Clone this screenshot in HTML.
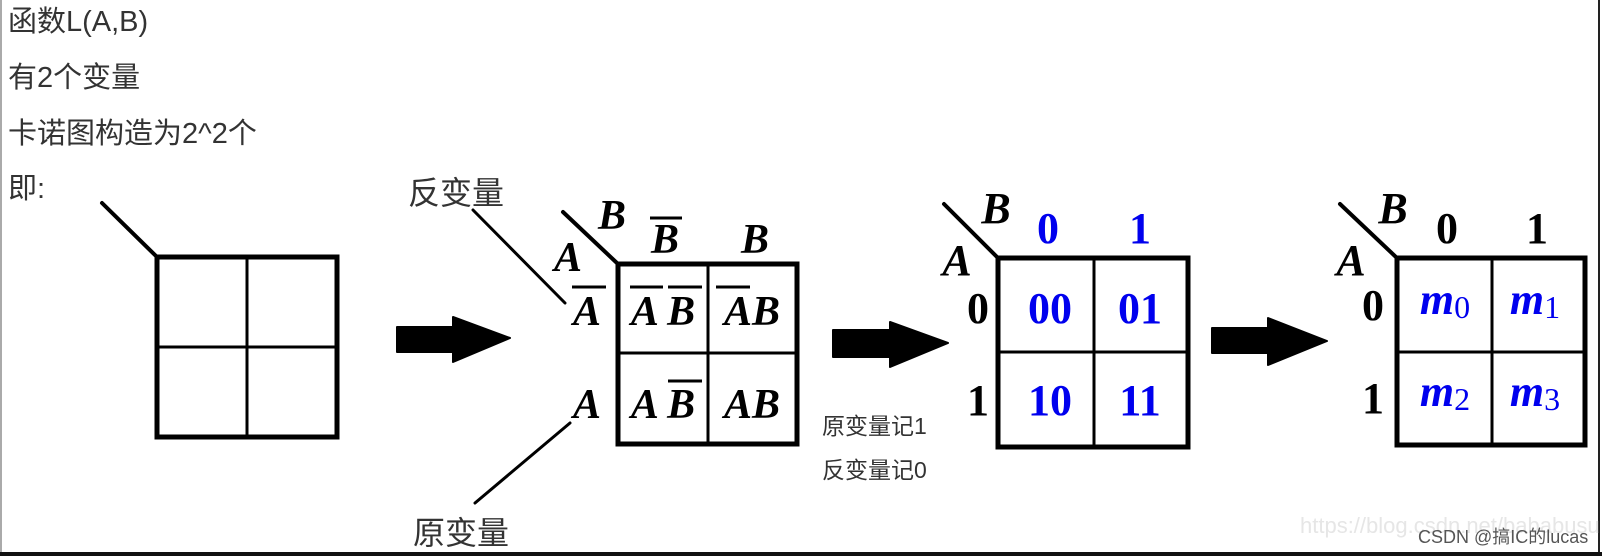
<!DOCTYPE html>
<html><head><meta charset="utf-8"><style>
html,body{margin:0;padding:0;background:#fff;}
svg{display:block;}
.cn{font-family:"Liberation Sans","Noto Sans CJK SC",sans-serif;fill:#333;}
.t{font-family:"Liberation Serif",serif;font-weight:bold;}
</style></head><body>
<svg width="1602" height="556" viewBox="0 0 1602 556" xmlns="http://www.w3.org/2000/svg">
<rect x="0" y="0" width="1602" height="556" fill="#fff"/>
<line x1="1" y1="0" x2="1" y2="552" stroke="#aaa" stroke-width="2"/>
<line x1="1599" y1="0" x2="1599" y2="552" stroke="#222" stroke-width="2"/>
<rect x="0" y="552" width="1602" height="4" fill="#111"/>

<g class="cn" font-size="29">
<text x="8" y="31">函数L(A,B)</text>
<text x="8" y="87">有2个变量</text>
<text x="8" y="143">卡诺图构造为2^2个</text>
<text x="8" y="198">即:</text>
</g>

<!-- Map 1 -->
<g stroke="#000" fill="none" stroke-linecap="round">
<line x1="102" y1="203" x2="157" y2="257" stroke-width="4"/>
<rect x="157" y="257" width="180" height="180" stroke-width="5"/>
<line x1="247" y1="257" x2="247" y2="437" stroke-width="3"/>
<line x1="157" y1="347" x2="337" y2="347" stroke-width="3"/>
</g>
<polygon points="397,327 453,327 453,317 510,338 453,362 453,352 397,352" fill="#000" stroke="#000" stroke-width="2" stroke-linejoin="round"/>

<!-- Map 2 -->
<g class="cn" font-size="32">
<text x="408" y="204">反变量</text>
<text x="413" y="544">原变量</text>
</g>
<g stroke="#000" fill="none" stroke-linecap="round">
<line x1="473" y1="210" x2="565" y2="303" stroke-width="3"/>
<line x1="570" y1="423" x2="475" y2="503" stroke-width="3"/>
<line x1="563" y1="212" x2="618" y2="264" stroke-width="4"/>
<rect x="618" y="264" width="179" height="180" stroke-width="5"/>
<line x1="708" y1="264" x2="708" y2="444" stroke-width="3"/>
<line x1="618" y1="353" x2="797" y2="353" stroke-width="3"/>
</g>
<g class="t" font-style="italic" font-size="42" fill="#000" text-anchor="middle">
<text x="612" y="229">B</text>
<text x="568" y="271">A</text>
<text x="665" y="253">B</text>
<text x="755" y="253">B</text>
<text x="587" y="325">A</text>
<text x="587" y="418">A</text>
<text x="663" y="325">A B</text>
<text x="752" y="325">AB</text>
<text x="663" y="418">A B</text>
<text x="752" y="418">AB</text>
</g>
<g stroke="#000" stroke-width="3">
<line x1="650" y1="218" x2="682" y2="218"/>
<line x1="572" y1="287" x2="606" y2="287"/>
<line x1="630" y1="287" x2="663" y2="287"/>
<line x1="668" y1="287" x2="702" y2="287"/>
<line x1="716" y1="287" x2="750" y2="287"/>
<line x1="668" y1="381" x2="702" y2="381"/>
</g>

<polygon points="833,330 890,330 890,322 948,343 890,367 890,357 833,357" fill="#000" stroke="#000" stroke-width="2" stroke-linejoin="round"/>
<g class="cn" font-size="23">
<text x="822" y="434">原变量记1</text>
<text x="822" y="478">反变量记0</text>
</g>

<!-- Map 3 -->
<g stroke="#000" fill="none" stroke-linecap="round">
<line x1="944" y1="204" x2="998" y2="258" stroke-width="4"/>
<rect x="998" y="258" width="190" height="189" stroke-width="5"/>
<line x1="1094" y1="258" x2="1094" y2="447" stroke-width="3"/>
<line x1="998" y1="352" x2="1188" y2="352" stroke-width="3"/>
</g>
<g class="t" font-size="44" text-anchor="middle">
<text x="996" y="223" font-style="italic" fill="#000">B</text>
<text x="957" y="275" font-style="italic" fill="#000">A</text>
<text x="1048" y="243" fill="#0000ee">0</text>
<text x="1140" y="243" fill="#0000ee">1</text>
<text x="978" y="323" fill="#000">0</text>
<text x="978" y="415" fill="#000">1</text>
<text x="1050" y="323" fill="#0000ee">00</text>
<text x="1140" y="323" fill="#0000ee">01</text>
<text x="1050" y="415" fill="#0000ee">10</text>
<text x="1140" y="415" fill="#0000ee">11</text>
</g>

<polygon points="1212,328 1268,328 1268,318 1327,341 1268,365 1268,353 1212,353" fill="#000" stroke="#000" stroke-width="2" stroke-linejoin="round"/>

<!-- Map 4 -->
<g stroke="#000" fill="none" stroke-linecap="round">
<line x1="1340" y1="204" x2="1397" y2="258" stroke-width="4"/>
<rect x="1397" y="258" width="188" height="187" stroke-width="5"/>
<line x1="1492" y1="258" x2="1492" y2="445" stroke-width="3"/>
<line x1="1397" y1="352" x2="1585" y2="352" stroke-width="3"/>
</g>
<g class="t" font-size="44" text-anchor="middle" fill="#000">
<text x="1393" y="223" font-style="italic">B</text>
<text x="1351" y="275" font-style="italic">A</text>
<text x="1447" y="243">0</text>
<text x="1537" y="243">1</text>
<text x="1373" y="320">0</text>
<text x="1373" y="413">1</text>
</g>
<g class="t" fill="#0000ee" text-anchor="middle">
<text x="1445" y="314"><tspan font-style="italic" font-size="44">m</tspan><tspan font-size="32" font-weight="normal" dy="4">0</tspan></text>
<text x="1535" y="314"><tspan font-style="italic" font-size="44">m</tspan><tspan font-size="32" font-weight="normal" dy="4">1</tspan></text>
<text x="1445" y="406"><tspan font-style="italic" font-size="44">m</tspan><tspan font-size="32" font-weight="normal" dy="4">2</tspan></text>
<text x="1535" y="406"><tspan font-style="italic" font-size="44">m</tspan><tspan font-size="32" font-weight="normal" dy="4">3</tspan></text>
</g>

<text x="1300" y="533" font-family="Liberation Sans,sans-serif" font-size="22" fill="#e6e6e6">https://blog.csdn.net/bababusu</text>
<text x="1418" y="543" class="cn" font-size="18" style="fill:#555">CSDN @搞IC的lucas</text>
</svg>
</body></html>
